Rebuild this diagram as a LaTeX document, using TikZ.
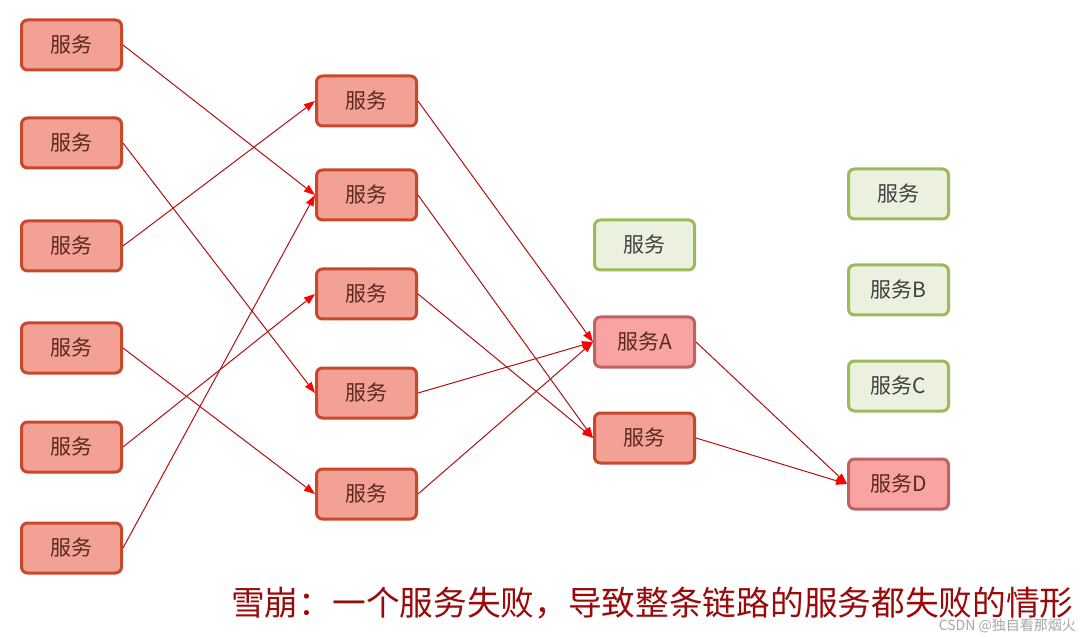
\documentclass[tikz,border=0pt]{standalone}
\usepackage{fontspec}
\setmainfont{Noto Sans CJK SC}
\usetikzlibrary{arrows.meta}
\definecolor{redfill}{HTML}{F3A095}
\definecolor{redline}{HTML}{C9472B}
\definecolor{pinkfill}{HTML}{F9A3A3}
\definecolor{pinkline}{HTML}{BE6266}
\definecolor{greenfill}{HTML}{EBF1DE}
\definecolor{greenline}{HTML}{9BBB59}
\definecolor{redtext}{HTML}{5A2A1E}
\definecolor{edgecol}{HTML}{B01010}
\definecolor{captioncol}{HTML}{9A0A0A}
\tikzset{
  svc/.style={rectangle, rounded corners=6pt, line width=3pt, minimum width=100pt, minimum height=50pt, inner sep=0pt, font=\fontsize{21}{23}\selectfont},
  redsvc/.style={svc, draw=redline, fill=redfill, text=redtext},
  pinksvc/.style={svc, draw=pinkline, fill=pinkfill, text=redtext},
  greensvc/.style={svc, draw=greenline, fill=greenfill, text=black!75},
  link/.style={draw=edgecol, line width=1pt, -{Triangle[length=11pt,width=8pt,color=red]}}
}
\begin{document}
\begin{tikzpicture}[x=1pt,y=-1pt]
\useasboundingbox (0,0) rectangle (1088,639);
% column 1
\node[redsvc] (a1) at (71.5,45) {服务};
\node[redsvc] (a2) at (71.5,143) {服务};
\node[redsvc] (a3) at (71.5,246) {服务};
\node[redsvc] (a4) at (71.5,348) {服务};
\node[redsvc] (a5) at (71.5,447) {服务};
\node[redsvc] (a6) at (71.5,548) {服务};
% column 2
\node[redsvc] (b1) at (366.5,101) {服务};
\node[redsvc] (b2) at (366.5,195) {服务};
\node[redsvc] (b3) at (366.5,294) {服务};
\node[redsvc] (b4) at (366.5,393) {服务};
\node[redsvc] (b5) at (366.5,494) {服务};
% column 3
\node[greensvc] (c0) at (644.5,245) {服务};
\node[pinksvc] (cA) at (644.5,342) {服务A};
\node[redsvc] (c2) at (644.5,438) {服务};
% column 4
\node[greensvc] (d0) at (898.5,194) {服务};
\node[greensvc] (dB) at (898.5,290) {服务B};
\node[greensvc] (dC) at (898.5,386) {服务C};
\node[pinksvc] (dD) at (898.5,484) {服务D};
% edges
\draw[link] (a1.east) -- (b2.west);
\draw[link] (a2.east) -- (b4.west);
\draw[link] (a3.east) -- (b1.west);
\draw[link] (a4.east) -- (b5.west);
\draw[link] (a5.east) -- (b3.west);
\draw[link] (a6.east) -- (b2.west);
\draw[link] (b1.east) -- (cA.west);
\draw[link] (b2.east) -- (c2.west);
\draw[link] (b3.east) -- (c2.west);
\draw[link] (b4.east) -- (cA.west);
\draw[link] (b5.east) -- (cA.west);
\draw[link] (cA.east) -- (dD.west);
\draw[link] (c2.east) -- (dD.west);
% caption
\node[text=captioncol, font=\fontsize{33.7}{36}\selectfont, anchor=west, inner sep=0pt] (cap) at (231,603) {雪崩：一个服务失败，导致整条链路的服务都失败的情形};
\node[text=black!35, font=\fontsize{14}{16}\selectfont, anchor=east, inner sep=0pt] (wm) at (1076,626) {CSDN @独自看那烟火};
\end{tikzpicture}
\end{document}
